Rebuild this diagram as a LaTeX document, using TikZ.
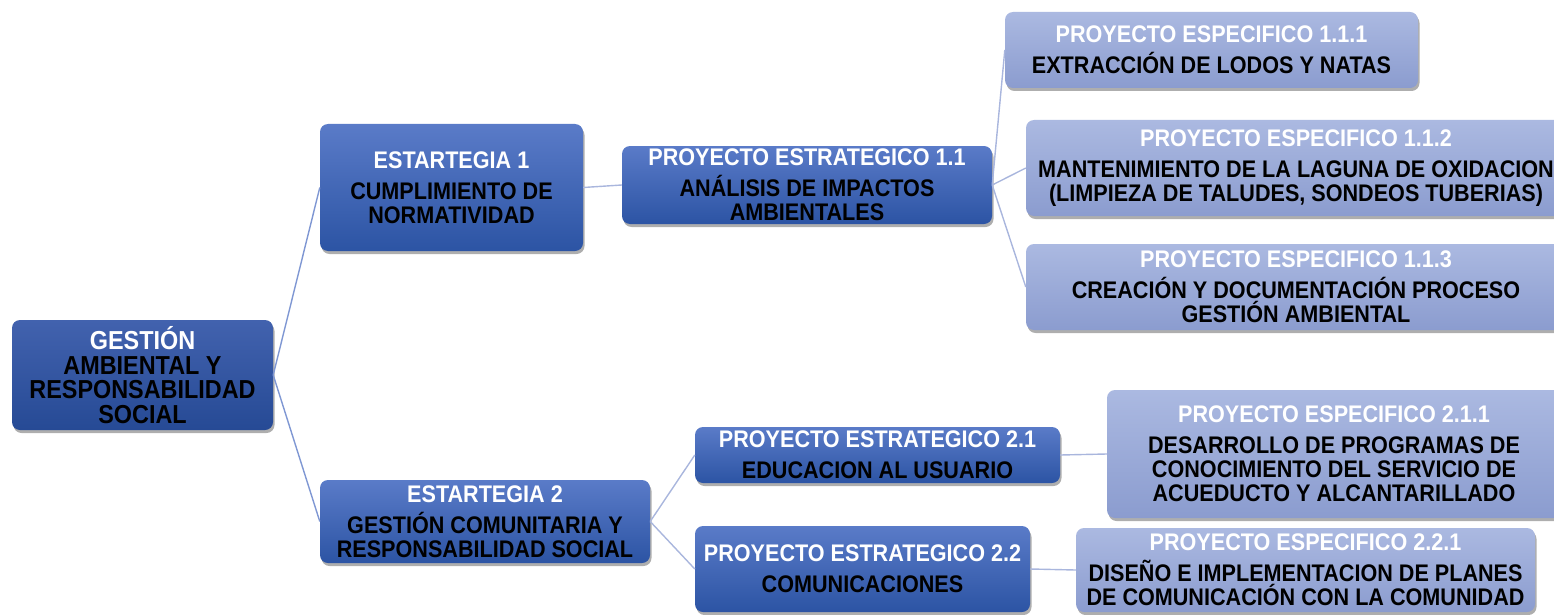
\documentclass[tikz,border=0pt]{standalone}
\usepackage{fontspec}
\setmainfont[FakeStretch=0.9]{Liberation Sans}
\usetikzlibrary{shadows}
\definecolor{darktop}{HTML}{5A7BC8}
\definecolor{darkbot}{HTML}{2C54A4}
\definecolor{roottop}{HTML}{4262AE}
\definecolor{rootbot}{HTML}{264A95}
\definecolor{lighttop}{HTML}{ABB9E1}
\definecolor{lightbot}{HTML}{8B9CCF}
\definecolor{linkA}{HTML}{7F97D3}
\definecolor{linkB}{HTML}{A9B6DD}
\newcommand{\ttl}[1]{\textcolor{white}{#1}}
\begin{document}
\begin{tikzpicture}[x=1pt,y=-1pt,
  box/.style={rounded corners=8pt,inner sep=0pt,align=center,
    font=\fontsize{24}{24}\selectfont\bfseries,
    drop shadow={shadow xshift=1.5pt,shadow yshift=-3pt,opacity=.45,fill=black!70}},
  rootbox/.style={box,top color=roottop,bottom color=rootbot,font=\fontsize{26}{24.5}\selectfont\bfseries},
  darkbox/.style={box,top color=darktop,bottom color=darkbot},
  lightbox/.style={box,top color=lighttop,bottom color=lightbot},
  link/.style={draw=linkA,line width=1.4pt},
  sublink/.style={draw=linkB,line width=1.4pt}]
  \useasboundingbox (0,0) rectangle (1554,615);
  % boxes
  \node[rootbox,minimum width=261pt,minimum height=110pt] (root) at (142.5,375)
    {\ttl{GESTIÓN}\\AMBIENTAL Y\\RESPONSABILIDAD\\SOCIAL};
  \node[darkbox,minimum width=263pt,minimum height=127pt] (e1) at (451.5,187.5)
    {\ttl{ESTARTEGIA 1}\\[7pt]CUMPLIMIENTO DE\\NORMATIVIDAD};
  \node[darkbox,minimum width=370pt,minimum height=78pt] (pe11) at (807,185)
    {\ttl{PROYECTO ESTRATEGICO 1.1}\\[7pt]ANÁLISIS DE IMPACTOS\\AMBIENTALES};
  \node[lightbox,minimum width=413pt,minimum height=76pt] (ps111) at (1211.5,50)
    {\ttl{PROYECTO ESPECIFICO 1.1.1}\\[7pt]EXTRACCIÓN DE LODOS Y NATAS};
  \node[lightbox,minimum width=540pt,minimum height=96pt] (ps112) at (1296,168)
    {\ttl{PROYECTO ESPECIFICO 1.1.2}\\[7pt]MANTENIMIENTO DE LA LAGUNA DE OXIDACION\\(LIMPIEZA DE TALUDES, SONDEOS TUBERIAS)};
  \node[lightbox,minimum width=540pt,minimum height=86pt] (ps113) at (1296,287)
    {\ttl{PROYECTO ESPECIFICO 1.1.3}\\[7pt]CREACIÓN Y DOCUMENTACIÓN PROCESO\\GESTIÓN AMBIENTAL};
  \node[darkbox,minimum width=330pt,minimum height=83pt] (e2) at (485,521.5)
    {\ttl{ESTARTEGIA 2}\\[7pt]GESTIÓN COMUNITARIA Y\\RESPONSABILIDAD SOCIAL};
  \node[darkbox,minimum width=365pt,minimum height=56pt] (pe21) at (877.5,455)
    {\ttl{PROYECTO ESTRATEGICO 2.1}\\[7pt]EDUCACION AL USUARIO};
  \node[darkbox,minimum width=335pt,minimum height=86pt] (pe22) at (862.5,569)
    {\ttl{PROYECTO ESTRATEGICO 2.2}\\[7pt]COMUNICACIONES};
  \node[lightbox,minimum width=454pt,minimum height=128pt] (ps211) at (1334,454)
    {\ttl{PROYECTO ESPECIFICO 2.1.1}\\[7pt]DESARROLLO DE PROGRAMAS DE\\CONOCIMIENTO DEL SERVICIO DE\\ACUEDUCTO Y ALCANTARILLADO};
  \node[lightbox,minimum width=459pt,minimum height=84pt] (ps221) at (1305.5,570)
    {\ttl{PROYECTO ESPECIFICO 2.2.1}\\[7pt]DISEÑO E IMPLEMENTACION DE PLANES\\DE COMUNICACIÓN CON LA COMUNIDAD};
  % links
  \draw[link] (root.east) -- (e1.west);
  \draw[link] (root.east) -- (e2.west);
  \draw[sublink] (e1.east) -- (pe11.west);
  \draw[sublink] (pe11.east) -- (ps111.west);
  \draw[sublink] (pe11.east) -- (ps112.west);
  \draw[sublink] (pe11.east) -- (ps113.west);
  \draw[sublink] (e2.east) -- (pe21.west);
  \draw[sublink] (e2.east) -- (pe22.west);
  \draw[sublink] (pe21.east) -- (ps211.west);
  \draw[sublink] (pe22.east) -- (ps221.west);
\end{tikzpicture}
\end{document}
